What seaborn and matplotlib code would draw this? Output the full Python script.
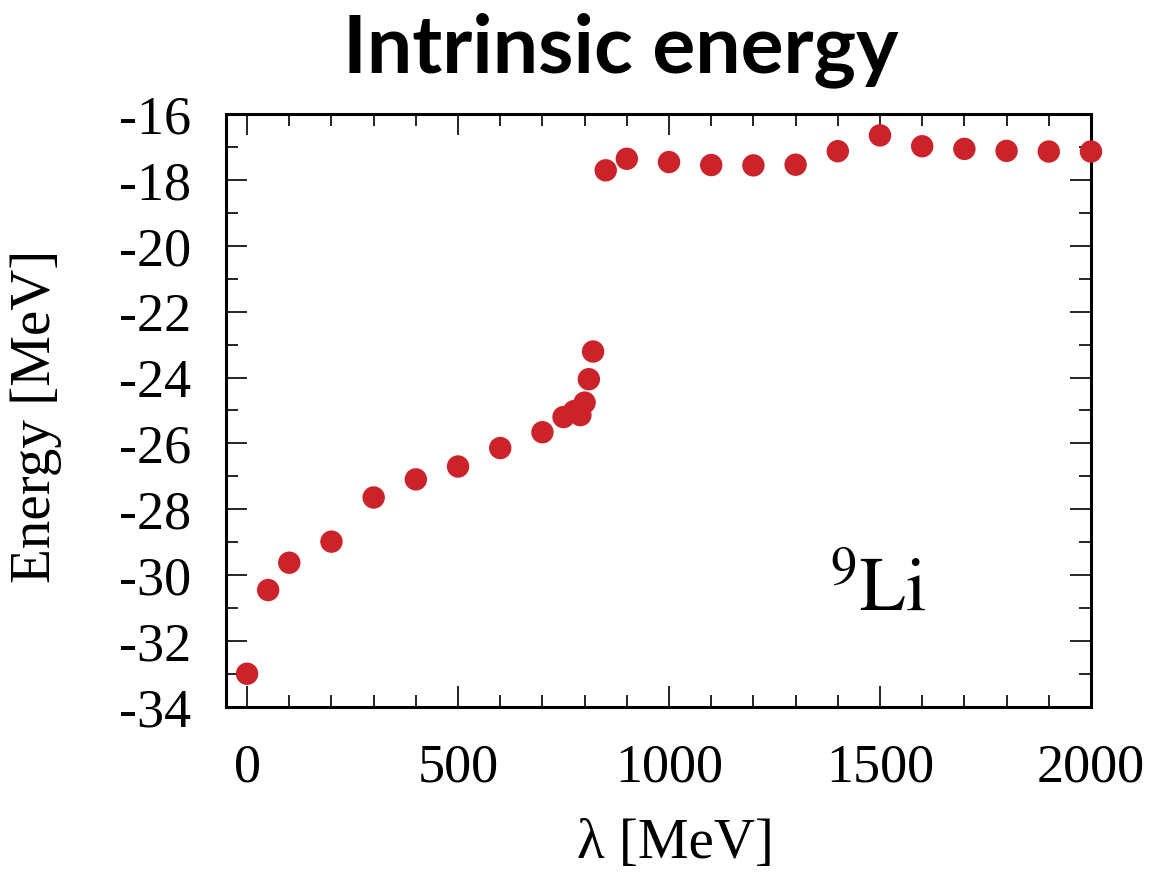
import matplotlib
matplotlib.use("Agg")
import matplotlib.pyplot as plt
from matplotlib.ticker import MultipleLocator
import seaborn as sns
import pandas as pd

# Data
lam = [0, 50, 100, 200, 300, 400, 500, 600, 700, 750, 775, 790, 800, 810, 820,
       850, 900, 1000, 1100, 1200, 1300, 1400, 1500, 1600, 1700, 1800, 1900, 2000]
energy = [-32.99, -30.45, -29.62, -28.98, -27.64, -27.09, -26.70, -26.14, -25.66,
          -25.20, -25.02, -25.14, -24.76, -24.05, -23.21,
          -17.71, -17.36, -17.46, -17.55, -17.56, -17.54, -17.13, -16.65,
          -16.98, -17.06, -17.12, -17.14, -17.14]

title = "Intrinsic energy"
xlabel = "λ [MeV]"
ylabel = "Energy [MeV]"
nucleus = r"$^{9}\mathrm{Li}$"

df = pd.DataFrame({"lam": lam, "energy": energy})

sns.set_style("ticks")
plt.rcParams["font.family"] = ["Liberation Serif", "DejaVu Serif"]
plt.rcParams["mathtext.fontset"] = "stix"
plt.rcParams["axes.unicode_minus"] = False
for key in ["text.color", "axes.labelcolor", "xtick.color", "ytick.color",
            "axes.edgecolor"]:
    plt.rcParams[key] = "black"

fig = plt.figure(figsize=(11.6, 8.72), dpi=100)
ax = fig.add_axes([0.1948, 0.1892, 0.9405 - 0.1948, 0.8693 - 0.1892])

sns.scatterplot(data=df, x="lam", y="energy", ax=ax, s=260, color="#cc2229",
                edgecolor="none", linewidth=0, zorder=3, clip_on=False)

ax.set_xlim(-50, 2000)
ax.set_ylim(-34, -16)
ax.xaxis.set_major_locator(MultipleLocator(500))
ax.xaxis.set_minor_locator(MultipleLocator(100))
ax.yaxis.set_major_locator(MultipleLocator(2))
ax.yaxis.set_minor_locator(MultipleLocator(1))

for sp in ax.spines.values():
    sp.set_linewidth(2.2)
    sp.set_color("black")

ax.tick_params(which="both", direction="in", top=True, right=True, color="black")
ax.tick_params(which="major", length=15, width=1.2, labelsize=39)
ax.tick_params(which="minor", length=8.5, width=1.2)
ax.tick_params(axis="y", which="major", pad=25)
ax.tick_params(axis="x", which="major", pad=26)

ax.set_xlabel(xlabel, fontsize=41)
ax.set_ylabel(ylabel, fontsize=41)
ax.xaxis.set_label_coords(0.52, -0.187)
ax.yaxis.set_label_coords(-0.1896, 0.49)

ax.text(1378, -31.05, nucleus, fontsize=54, ha="left", va="baseline")

fig.text(621 / 1160, 1 - 72 / 872, title, fontsize=58, fontweight="bold",
         family=["Lato", "DejaVu Sans"], ha="center", va="baseline", color="black")

fig.savefig("out.png", dpi=100)
